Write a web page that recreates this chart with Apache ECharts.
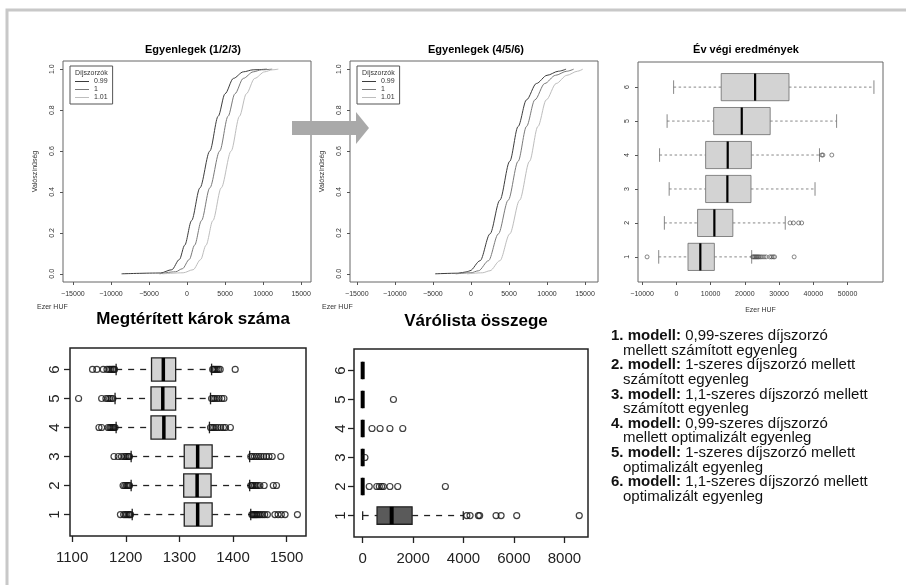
<!DOCTYPE html>
<html>
<head>
<meta charset="UTF-8">
<title>Egyenlegek és év végi eredmények</title>
<style>
  html, body { margin: 0; padding: 0; background: #fff; }
  #chart { width: 906px; height: 585px; }
</style>
<script src="https://cdn.jsdelivr.net/npm/echarts@6/dist/echarts.min.js"></script>
</head>
<body>
<div id="chart"></div>
<script>
var FONT = '"Liberation Sans", Arial, sans-serif';

// --- ECDF gorbek (Ezer HUF, valoszinuseg) ---
var cdfNames = ['0.99', '1', '1.01'];
var cdfColors = ['#3c3c3c', '#7a7a7a', '#bdbdbd'];
var egyenleg123 = [
  [[-8600,0],[-3500,0.004],[-2000,0.02],[-1000,0.07],[-300,0.14],[600,0.26],[1700,0.42],[3000,0.6],[4100,0.77],[5000,0.88],[6100,0.955],[7400,0.987],[8700,0.997],[10500,1]],
  [[-3600,0],[-1500,0.01],[-600,0.025],[300,0.07],[1000,0.14],[1900,0.26],[3000,0.42],[4300,0.6],[5400,0.77],[6300,0.88],[7400,0.955],[8700,0.987],[9800,0.997],[11200,1]],
  [[-3200,0],[-500,0.005],[800,0.02],[1800,0.07],[2500,0.14],[3400,0.26],[4500,0.42],[5800,0.6],[6900,0.77],[7800,0.88],[8900,0.955],[10200,0.987],[11200,0.997],[12000,1]]
];
var egyenleg456 = [
  [[-4700,0],[-1700,0.003],[-500,0.01],[-130,0.015],[1200,0.064],[2500,0.195],[3800,0.36],[5100,0.55],[6200,0.72],[7300,0.85],[8600,0.93],[10000,0.97],[11500,0.99],[12500,1]],
  [[-2000,0],[0,0.005],[1000,0.015],[2300,0.064],[3600,0.195],[4900,0.36],[6200,0.55],[7300,0.72],[8400,0.85],[9700,0.93],[11100,0.97],[12600,0.99],[13500,1]],
  [[-500,0],[1500,0.005],[2500,0.015],[3800,0.064],[5100,0.195],[6400,0.36],[7700,0.55],[8800,0.72],[9900,0.85],[11200,0.93],[12600,0.97],[14000,0.99],[14700,1]]
];
var cdfTicks = [-15000, -10000, -5000, 0, 5000, 10000, 15000];
var probTicks = [0, 0.2, 0.4, 0.6, 0.8, 1];

// --- dobozabrak: [min, Q1, median, Q3, max] modellenkent (1..6) ---
var modelTicks = [1, 2, 3, 4, 5, 6];
var evVegiBox = [
  [-5150, 3400, 7000, 11100, 22000],
  [-3500, 6200, 11100, 16500, 31800],
  [-2100, 8550, 14900, 21800, 40500],
  [-4900, 8550, 15000, 21900, 41800],
  [-2700, 10900, 19100, 27400, 46800],
  [-800, 13100, 23000, 32900, 57700]
];
var evVegiOut = [
  [-8550, 22300, 22600, 22900, 23200, 23500, 23800, 24100, 24500, 25000, 25600, 26200, 27300, 27800, 28300, 28700, 34400],
  [33200, 34200, 35700, 36600],
  [],
  [42500, 42800, 45400],
  [],
  []
];
var evVegiTicks = [-10000, 0, 10000, 20000, 30000, 40000, 50000];

var karokBox = [
  [1212, 1309, 1334, 1361, 1433],
  [1210, 1308, 1333, 1359, 1431],
  [1210, 1309, 1334, 1361, 1431],
  [1182, 1247, 1271, 1293, 1356],
  [1180, 1247, 1269, 1293, 1358],
  [1182, 1248, 1270, 1293, 1360]
];
var karokOut = [
  [1190, 1196, 1199, 1202, 1205, 1207, 1209, 1435, 1437, 1439, 1441, 1443, 1445, 1448, 1451, 1455, 1459, 1464, 1478, 1484, 1490, 1497, 1520],
  [1195, 1198, 1201, 1203, 1205, 1207, 1433, 1435, 1437, 1440, 1443, 1446, 1450, 1458, 1475, 1481],
  [1178, 1186, 1192, 1197, 1200, 1203, 1205, 1207, 1433, 1436, 1440, 1444, 1448, 1452, 1457, 1462, 1467, 1473, 1489],
  [1150, 1155, 1167, 1170, 1172, 1174, 1176, 1178, 1180, 1358, 1361, 1364, 1368, 1372, 1377, 1382, 1386, 1395],
  [1112, 1155, 1163, 1167, 1170, 1173, 1176, 1360, 1363, 1366, 1370, 1374, 1379, 1383],
  [1138, 1146, 1158, 1165, 1169, 1172, 1175, 1177, 1179, 1362, 1364, 1367, 1370, 1373, 1376, 1404]
];
var karokTicks = [1100, 1200, 1300, 1400, 1500];

var varoBox = [
  [0, 570, 1150, 1960, 3990],
  [0, 0, 0, 0, 0],
  [0, 0, 0, 0, 0],
  [0, 0, 0, 0, 0],
  [0, 0, 0, 0, 0],
  [0, 0, 0, 0, 0]
];
var varoOut = [
  [4130, 4260, 4590, 4640, 5290, 5490, 6110, 8590],
  [260, 560, 660, 750, 820, 1080, 1390, 3280],
  [90],
  [370, 690, 1080, 1590],
  [1220],
  []
];
var varoTicks = [0, 2000, 4000, 6000, 8000];

// --- magyarazo szoveg ---
var modelLabels = ['1. modell:', '2. modell:', '3. modell:', '4. modell:', '5. modell:', '6. modell:'];
var modelFirst = [' 0,99-szeres díjszorzó', ' 1-szeres díjszorzó mellett', ' 1,1-szeres díjszorzó mellett', ' 0,99-szeres díjszorzó', ' 1-szeres díjszorzó mellett', ' 1,1-szeres díjszorzó mellett'];
var modelSecond = ['mellett számított egyenleg', 'számított egyenleg', 'számított egyenleg', 'mellett optimalizált egyenleg', 'optimalizált egyenleg', 'optimalizált egyenleg'];

function boxRows(box) {
  return box.map(function (b, i) { return [i + 1].concat(b); });
}
function outRows(out) {
  var res = [];
  out.forEach(function (vals, i) {
    vals.forEach(function (v) { res.push([v, i + 1]); });
  });
  return res;
}

// R-stilusu dobozabra: szaggatott bajusz, tomor vegek, vastag median
function boxRenderer(st) {
  return function (params, api) {
    var pos = api.value(0);
    var lo = api.coord([api.value(1), pos]);
    var q1 = api.coord([api.value(2), pos]);
    var md = api.coord([api.value(3), pos]);
    var q3 = api.coord([api.value(4), pos]);
    var hi = api.coord([api.value(5), pos]);
    var h = api.size([0, 1])[1] * st.ratio;
    var y = lo[1];
    var fill = (params.dataIndex === 0 && st.firstFill) ? st.firstFill : st.fill;
    var dash = { stroke: st.line, lineWidth: st.lw, lineDash: st.dash };
    var solid = { stroke: st.line, lineWidth: st.lw };
    return {
      type: 'group',
      children: [
        { type: 'line', shape: { x1: lo[0], y1: y, x2: q1[0], y2: y }, style: dash },
        { type: 'line', shape: { x1: q3[0], y1: y, x2: hi[0], y2: y }, style: dash },
        { type: 'line', shape: { x1: lo[0], y1: y - h / 4, x2: lo[0], y2: y + h / 4 }, style: solid },
        { type: 'line', shape: { x1: hi[0], y1: y - h / 4, x2: hi[0], y2: y + h / 4 }, style: solid },
        { type: 'rect', shape: { x: q1[0], y: y - h / 2, width: q3[0] - q1[0], height: h },
          style: { fill: fill, stroke: st.border, lineWidth: st.lw } },
        { type: 'line', shape: { x1: md[0], y1: y - h / 2, x2: md[0], y2: y + h / 2 },
          style: { stroke: '#000', lineWidth: st.medW } }
      ]
    };
  };
}

// R-szeru szamformatum: ezres elvalaszto nelkul, valodi minusz jel
var numFmt = function (v) { return (v < 0 ? '\u2212' : '') + Math.abs(v); };
var probFmt = function (v) { return v.toFixed(1); };

function smallX(grid, min, max, ticks, extra) {
  var ax = {
    type: 'value', gridIndex: grid, min: min, max: max,
    axisLine: { show: false, onZero: false }, splitLine: { show: false },
    axisTick: { show: true, length: 3, customValues: ticks, lineStyle: { color: '#555' } },
    axisLabel: { customValues: ticks, margin: 9, fontSize: 7, color: '#333', fontFamily: FONT, formatter: numFmt }
  };
  return Object.assign(ax, extra || {});
}
function smallY(grid, min, max, ticks, fmt, extra) {
  var ax = {
    type: 'value', gridIndex: grid, min: min, max: max,
    axisLine: { show: false, onZero: false }, splitLine: { show: false },
    axisTick: { show: true, length: 3, customValues: ticks, lineStyle: { color: '#555' } },
    axisLabel: { customValues: ticks, rotate: 90, margin: 7, fontSize: 7, color: '#333', fontFamily: FONT, formatter: fmt }
  };
  return Object.assign(ax, extra || {});
}
function bigX(grid, min, max, ticks) {
  return {
    type: 'value', gridIndex: grid, min: min, max: max,
    axisLine: { show: false, onZero: false }, splitLine: { show: false },
    axisTick: { show: true, length: 6, customValues: ticks, lineStyle: { color: '#222', width: 1.3 } },
    axisLabel: { customValues: ticks, margin: 14, fontSize: 15, color: '#222', fontFamily: FONT, formatter: numFmt }
  };
}
function bigY(grid, ticks, margin) {
  return {
    type: 'value', gridIndex: grid, min: 0.26, max: 6.74,
    axisLine: { show: false, onZero: false }, splitLine: { show: false },
    axisTick: { show: true, length: 6, customValues: ticks, lineStyle: { color: '#222', width: 1.3 } },
    axisLabel: { customValues: ticks, rotate: 90, margin: margin, fontSize: 15, color: '#222', fontFamily: FONT }
  };
}

var yName = { name: 'Valószínűség', nameLocation: 'middle', nameGap: 24, nameRotate: 90,
  nameTextStyle: { fontSize: 7, color: '#333', fontFamily: FONT } };

var series = [];
cdfNames.forEach(function (n, i) {
  series.push({ name: n, type: 'line', xAxisIndex: 0, yAxisIndex: 0, data: egyenleg123[i],
    smooth: 0.3, smoothMonotone: 'x', symbol: 'none', color: cdfColors[i], lineStyle: { width: 1 } });
});
cdfNames.forEach(function (n, i) {
  series.push({ name: n, type: 'line', xAxisIndex: 1, yAxisIndex: 1, data: egyenleg456[i],
    smooth: 0.3, smoothMonotone: 'x', symbol: 'none', color: cdfColors[i], lineStyle: { width: 1 } });
});
series.push({ type: 'custom', xAxisIndex: 2, yAxisIndex: 2, data: boxRows(evVegiBox),
  encode: { x: [1, 2, 3, 4, 5], y: 0 },
  renderItem: boxRenderer({ ratio: 0.8, fill: '#d3d3d3', border: '#6a6a6a', line: '#6a6a6a', lw: 0.8, dash: [2.5, 2.5], medW: 2.2 }) });
series.push({ type: 'scatter', xAxisIndex: 2, yAxisIndex: 2, data: outRows(evVegiOut), symbolSize: 4,
  itemStyle: { color: 'rgba(0,0,0,0)', borderColor: '#444', borderWidth: 0.8 } });
series.push({ type: 'custom', xAxisIndex: 3, yAxisIndex: 3, data: boxRows(karokBox),
  encode: { x: [1, 2, 3, 4, 5], y: 0 },
  renderItem: boxRenderer({ ratio: 0.8, fill: '#d3d3d3', border: '#222', line: '#222', lw: 1.3, dash: [6, 6], medW: 3.5 }) });
series.push({ type: 'scatter', xAxisIndex: 3, yAxisIndex: 3, data: outRows(karokOut), symbolSize: 6,
  itemStyle: { color: 'rgba(0,0,0,0)', borderColor: '#111', borderWidth: 1.2 } });
series.push({ type: 'custom', xAxisIndex: 4, yAxisIndex: 4, data: boxRows(varoBox),
  encode: { x: [1, 2, 3, 4, 5], y: 0 },
  renderItem: boxRenderer({ ratio: 0.6, fill: '#5a5a5a', firstFill: '#5a5a5a', border: '#222', line: '#222', lw: 1.3, dash: [6, 6], medW: 4 }) });
series.push({ type: 'scatter', xAxisIndex: 4, yAxisIndex: 4, data: outRows(varoOut), symbolSize: 6,
  itemStyle: { color: 'rgba(0,0,0,0)', borderColor: '#111', borderWidth: 1.2 } });

var titleStyle = function (size) {
  return { fontSize: size, fontWeight: 'bold', color: '#000', fontFamily: FONT };
};

var graphics = [
  // keret
  { type: 'polyline', shape: { points: [[7, 600], [7, 10], [920, 10]] }, style: { stroke: '#c8c8c8', lineWidth: 3, fill: null } },
  // nyil
  { type: 'polygon', shape: { points: [[292, 121], [356, 121], [356, 112], [369, 128], [356, 144], [356, 135], [292, 135]] },
    style: { fill: '#a9a9a9' } },
  { type: 'text', x: 37, y: 307, style: { text: 'Ezer HUF', font: '7px ' + FONT, fill: '#333', textVerticalAlign: 'middle' } },
  { type: 'text', x: 322, y: 307, style: { text: 'Ezer HUF', font: '7px ' + FONT, fill: '#333', textVerticalAlign: 'middle' } },
  { type: 'text', x: 75, y: 73, style: { text: 'Díjszorzók', font: '7px ' + FONT, fill: '#333', textVerticalAlign: 'middle' } },
  { type: 'text', x: 362, y: 73, style: { text: 'Díjszorzók', font: '7px ' + FONT, fill: '#333', textVerticalAlign: 'middle' } }
];
modelLabels.forEach(function (lab, i) {
  var y0 = 336 + i * 2 * 14.6;
  graphics.push({ type: 'text', x: 611, y: y0, style: {
    text: '{b|' + lab + '}' + modelFirst[i], font: '15px ' + FONT, fill: '#111', textVerticalAlign: 'middle',
    rich: { b: { fontWeight: 'bold', fontSize: 15, fontFamily: FONT, fill: '#111' } } } });
  graphics.push({ type: 'text', x: 623, y: y0 + 14.6, style: {
    text: modelSecond[i], font: '15px ' + FONT, fill: '#111', textVerticalAlign: 'middle' } });
});

var legendBase = {
  orient: 'vertical', data: cdfNames, icon: 'rect', itemWidth: 14, itemHeight: 1, itemGap: 1,
  padding: [12, 5, 3, 5], borderColor: '#555', borderWidth: 1, selectedMode: false,
  textStyle: { fontSize: 7, color: '#333', fontFamily: FONT }
};

var chart = echarts.init(document.getElementById('chart'), null, { renderer: 'canvas' });
chart.setOption({
  backgroundColor: '#fff',
  animation: false,
  title: [
    { text: 'Egyenlegek (1/2/3)', left: 188, top: 39, textAlign: 'center', textStyle: titleStyle(11) },
    { text: 'Egyenlegek (4/5/6)', left: 471, top: 39, textAlign: 'center', textStyle: titleStyle(11) },
    { text: 'Év végi eredmények', left: 741, top: 39, textAlign: 'center', textStyle: titleStyle(11) },
    { text: 'Megtérített károk száma', left: 188, top: 306, textAlign: 'center', textStyle: titleStyle(17) },
    { text: 'Várólista összege', left: 471, top: 308, textAlign: 'center', textStyle: titleStyle(17) }
  ],
  legend: [
    Object.assign({ left: 70, top: 66 }, legendBase),
    Object.assign({ left: 357, top: 66 }, legendBase)
  ],
  grid: [
    { left: 63, top: 61, width: 248, height: 221, show: true, borderColor: '#666', borderWidth: 1 },
    { left: 350, top: 61, width: 248, height: 221, show: true, borderColor: '#666', borderWidth: 1 },
    { left: 638, top: 62, width: 245, height: 220, show: true, borderColor: '#666', borderWidth: 1 },
    { left: 70, top: 348, width: 236, height: 188, show: true, borderColor: '#222', borderWidth: 1.5 },
    { left: 354, top: 349, width: 234, height: 188, show: true, borderColor: '#222', borderWidth: 1.5 }
  ],
  xAxis: [
    smallX(0, -16300, 16300, cdfTicks),
    smallX(1, -15900, 16700, cdfTicks),
    smallX(2, -11200, 60350, evVegiTicks, { name: 'Ezer HUF', nameLocation: 'middle', nameGap: 25,
      nameTextStyle: { fontSize: 7, color: '#333', fontFamily: FONT } }),
    bigX(3, 1096, 1536, karokTicks),
    bigX(4, -344, 8937, varoTicks)
  ],
  yAxis: [
    smallY(0, -0.04, 1.04, probTicks, probFmt, yName),
    smallY(1, -0.04, 1.04, probTicks, probFmt, yName),
    smallY(2, 0.26, 6.74, modelTicks),
    bigY(3, modelTicks, 8),
    bigY(4, modelTicks, 6)
  ],
  graphic: graphics,
  series: series
});
</script>
</body>
</html>
